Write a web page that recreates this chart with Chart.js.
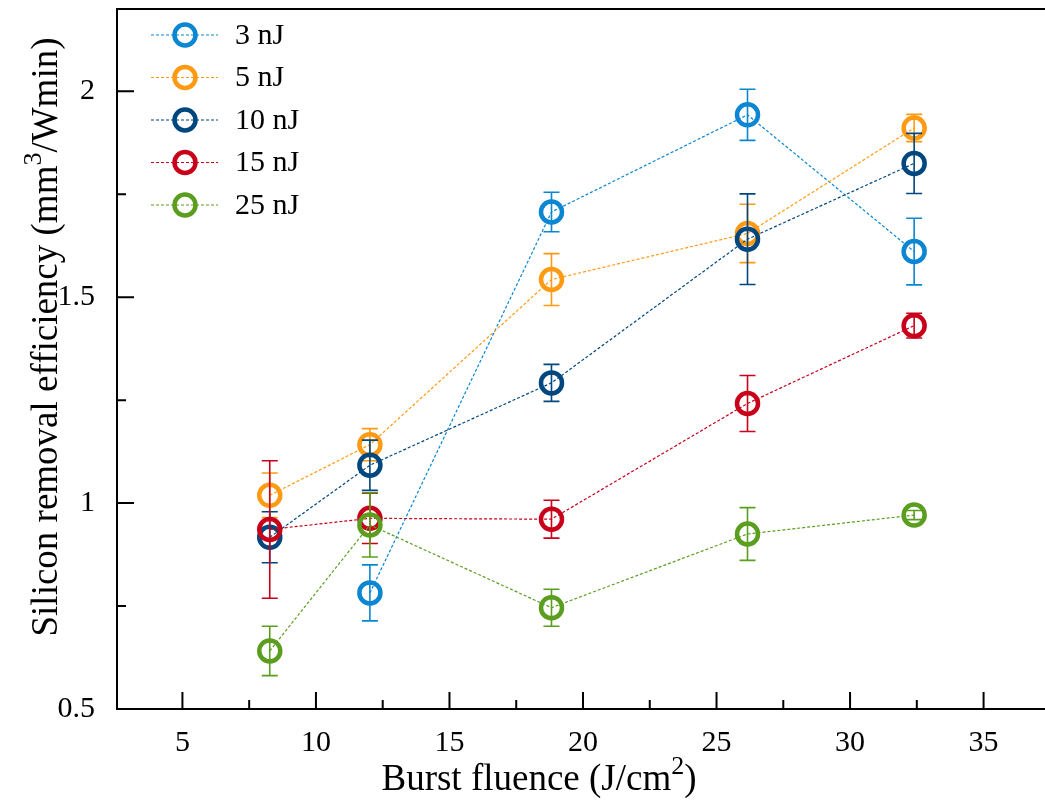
<!DOCTYPE html>
<html>
<head>
<meta charset="utf-8">
<script src="https://cdn.jsdelivr.net/npm/chart.js@4/dist/chart.umd.min.js"></script>
<style>
  html, body { margin: 0; padding: 0; background: #fff; overflow: hidden; width: 1045px; height: 800px; }
  canvas { display: block; }
</style>
</head>
<body>
<canvas id="c" width="1045" height="800"></canvas>
<script>
// Burst fluence (J/cm2) shared by all pulse energies
const fluence = [8.27, 12.02, 18.82, 26.16, 32.40];

const seriesNames = ['3 nJ', '5 nJ', '10 nJ', '15 nJ', '25 nJ'];
const seriesColors = ['#0a86d2', '#ff9a12', '#00467f', '#c8001a', '#5b9e1f'];

// Silicon removal efficiency (mm3/Wmin) and its uncertainty
const eff3  = [null, 0.782, 1.707, 1.943, 1.611];
const err3  = [null, 0.068, 0.048, 0.062, 0.081];
const eff5  = [1.019, 1.142, 1.543, 1.655, 1.911];
const err5  = [0.054, 0.039, 0.063, 0.071, 0.033];
const eff10 = [0.917, 1.092, 1.292, 1.641, 1.825];
const err10 = [0.062, 0.061, 0.045, 0.110, 0.073];
const eff15 = [0.936, 0.963, 0.961, 1.242, 1.431];
const err15 = [0.167, 0.061, 0.046, 0.068, 0.030];
const eff25 = [0.641, 0.947, 0.746, 0.925, 0.971];
const err25 = [0.060, 0.078, 0.045, 0.064, 0.011];

const effAll = [eff3, eff5, eff10, eff15, eff25];
const errAll = [err3, err5, err10, err15, err25];

// Axis ticks
const xTickValues  = [5, 10, 15, 20, 25, 30, 35];
const xMinorValues = [7.5, 12.5, 17.5, 22.5, 27.5, 32.5];
const yTickValues  = [0.5, 1, 1.5, 2];
const yMinorValues = [0.75, 1.25, 1.75];

const SERIF = '"Liberation Serif", "Times New Roman", serif';

const datasets = seriesNames.map((name, i) => ({
  label: name,
  data: fluence.map((x, j) => ({ x: x, y: effAll[i][j] })),
  errors: errAll[i],
  borderColor: seriesColors[i],
  backgroundColor: seriesColors[i],
  borderWidth: 1.2,
  borderDash: [3, 2],
  pointRadius: 10.5,
  pointHoverRadius: 10.5,
  pointBorderWidth: 4.5,
  pointHoverBorderWidth: 4.5,
  pointBackgroundColor: 'rgba(0,0,0,0)',
  pointBorderColor: seriesColors[i],
  showLine: true,
  spanGaps: false,
  clip: false,
  order: seriesNames.length - i
}));

// Vertical error bars with caps, drawn beneath each series' markers
const errorBars = {
  id: 'errorBars',
  beforeDatasetDraw(chart, args) {
    const ds = chart.data.datasets[args.index];
    const ys = chart.scales.y;
    const ctx = chart.ctx;
    ctx.save();
    ctx.strokeStyle = ds.borderColor;
    ctx.lineWidth = 1.6;
    ctx.setLineDash([]);
    args.meta.data.forEach((pt, j) => {
      const v = ds.data[j].y;
      const e = ds.errors[j];
      if (v == null || e == null) return;
      const x = pt.x;
      const yTop = ys.getPixelForValue(v + e);
      const yBot = ys.getPixelForValue(v - e);
      ctx.beginPath();
      ctx.moveTo(x, yTop); ctx.lineTo(x, yBot);
      ctx.moveTo(x - 8, yTop); ctx.lineTo(x + 8, yTop);
      ctx.moveTo(x - 8, yBot); ctx.lineTo(x + 8, yBot);
      ctx.stroke();
    });
    ctx.restore();
  }
};

// Frame (left, bottom, top) with inward major/minor tick marks
const frameTicks = {
  id: 'frameTicks',
  afterDraw(chart) {
    const { ctx, chartArea: a, scales: { x, y } } = chart;
    const right = chart.width;
    ctx.save();
    ctx.strokeStyle = '#000';
    ctx.lineWidth = 2;
    ctx.setLineDash([]);
    ctx.beginPath();
    ctx.moveTo(a.left, a.top - 1); ctx.lineTo(a.left, a.bottom + 1);
    ctx.moveTo(a.left - 1, a.bottom); ctx.lineTo(right, a.bottom);
    ctx.moveTo(a.left - 1, a.top); ctx.lineTo(right, a.top);
    xTickValues.forEach(v => { const p = x.getPixelForValue(v); ctx.moveTo(p, a.bottom); ctx.lineTo(p, a.bottom - 17); });
    xMinorValues.forEach(v => { const p = x.getPixelForValue(v); ctx.moveTo(p, a.bottom); ctx.lineTo(p, a.bottom - 9); });
    yTickValues.forEach(v => { const p = y.getPixelForValue(v); ctx.moveTo(a.left, p); ctx.lineTo(a.left + 17, p); });
    yMinorValues.forEach(v => { const p = y.getPixelForValue(v); ctx.moveTo(a.left, p); ctx.lineTo(a.left + 9, p); });
    ctx.stroke();
    ctx.restore();
  }
};

// Text runs with raised superscripts
function runWidth(ctx, parts) {
  let w = 0;
  parts.forEach(p => { ctx.font = (p.sup ? 26 : 37) + 'px ' + SERIF; w += ctx.measureText(p.t).width; });
  return w;
}
function drawRuns(ctx, parts, cx, baseY) {
  let xPos = cx - runWidth(ctx, parts) / 2;
  ctx.textBaseline = 'alphabetic';
  ctx.textAlign = 'left';
  parts.forEach(p => {
    ctx.font = (p.sup ? 26 : 37) + 'px ' + SERIF;
    ctx.fillText(p.t, xPos, p.sup ? baseY - 16 : baseY);
    xPos += ctx.measureText(p.t).width;
  });
}

const axisTitles = {
  id: 'axisTitles',
  afterDraw(chart) {
    const ctx = chart.ctx;
    ctx.save();
    ctx.fillStyle = '#000';
    drawRuns(ctx, [{ t: 'Burst fluence (J/cm' }, { t: '2', sup: true }, { t: ')' }], 539, 790);
    ctx.translate(57, 337);
    ctx.rotate(-Math.PI / 2);
    drawRuns(ctx, [{ t: 'Silicon removal efficiency (mm' }, { t: '3', sup: true }, { t: '/Wmin)' }], 0, 0);
    ctx.restore();
  }
};

// Legend in the upper-left corner of the plot
const cornerLegend = {
  id: 'cornerLegend',
  afterDraw(chart) {
    const ctx = chart.ctx;
    ctx.save();
    chart.data.datasets.forEach((ds, i) => {
      const yy = 35 + i * 42.5;
      ctx.strokeStyle = ds.borderColor;
      ctx.lineWidth = 1.2;
      ctx.setLineDash([3, 2]);
      ctx.beginPath(); ctx.moveTo(151, yy); ctx.lineTo(218, yy); ctx.stroke();
      ctx.setLineDash([]);
      ctx.lineWidth = 4.5;
      ctx.beginPath(); ctx.arc(185, yy, 10.5, 0, Math.PI * 2); ctx.stroke();
      ctx.fillStyle = '#000';
      ctx.font = '30px ' + SERIF;
      ctx.textAlign = 'left';
      ctx.textBaseline = 'middle';
      ctx.fillText(ds.label, 235, yy + 1);
    });
    ctx.restore();
  }
};

function fixBox(s, w, h) {
  if (w != null) s.width = w;
  if (h != null) s.height = h;
  s.paddingTop = 0; s.paddingBottom = 0; s.paddingLeft = 0; s.paddingRight = 0;
}

new Chart(document.getElementById('c'), {
  type: 'scatter',
  data: { datasets: datasets },
  options: {
    responsive: false,
    animation: false,
    events: [],
    layout: { autoPadding: false, padding: { top: 9, right: 0, left: 0, bottom: 0 } },
    plugins: { legend: { display: false }, tooltip: { enabled: false } },
    scales: {
      x: {
        type: 'linear',
        min: 2.55,
        max: 37.3,
        grid: { display: false },
        border: { display: false },
        afterBuildTicks: s => { s.ticks = xTickValues.map(v => ({ value: v })); },
        afterFit: s => fixBox(s, null, 91),
        ticks: {
          color: '#000',
          padding: 8,
          maxRotation: 0,
          autoSkip: false,
          font: { family: SERIF, size: 30 },
          callback: v => String(v)
        },
        title: { display: false }
      },
      y: {
        type: 'linear',
        min: 0.5,
        max: 2.2,
        grid: { display: false },
        border: { display: false },
        afterBuildTicks: s => { s.ticks = yTickValues.map(v => ({ value: v })); },
        afterFit: s => fixBox(s, 117, null),
        ticks: {
          color: '#000',
          padding: 14,
          autoSkip: false,
          font: { family: SERIF, size: 30 },
          callback: v => String(v)
        },
        title: { display: false }
      }
    }
  },
  plugins: [errorBars, frameTicks, axisTitles, cornerLegend]
});
</script>
</body>
</html>
